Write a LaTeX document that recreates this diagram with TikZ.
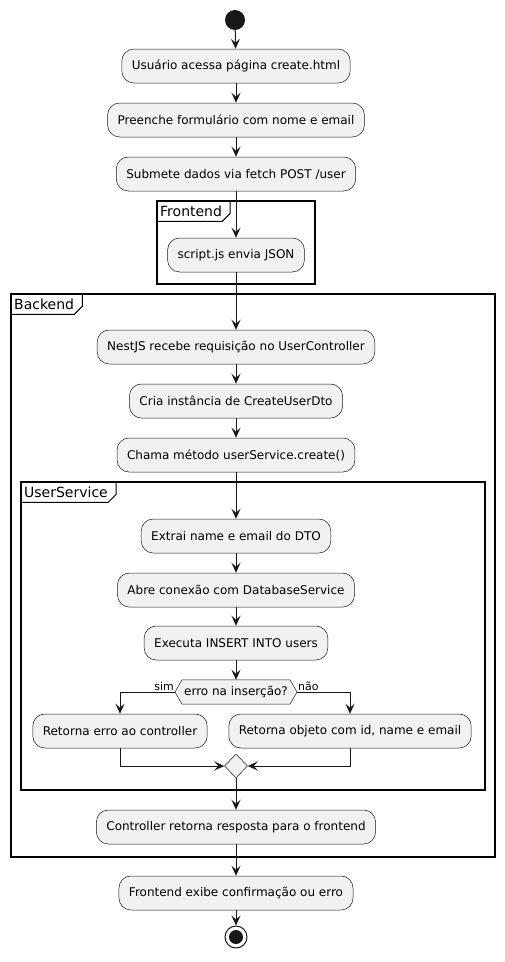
\documentclass[tikz,border=0pt]{standalone}
\usepackage{fontspec}
\setmainfont{DejaVu Sans}
\usetikzlibrary{arrows.meta,shapes.geometric,backgrounds}
\definecolor{boxfill}{HTML}{F1F1F1}
\definecolor{ink}{HTML}{181818}

\begin{document}
\begin{tikzpicture}[x=1pt, y=-1pt,
    act/.style={draw=ink, line width=0.5pt, fill=boxfill, rounded corners=12pt,
        minimum height=34pt, inner xsep=10pt, font=\fontsize{12}{14}\selectfont},
    flow/.style={draw=ink, line width=1pt, -{Stealth[length=10pt,width=9pt,inset=4pt]}},
    frame/.style={draw=black, line width=1.5pt},
    tab/.style={anchor=north west, inner xsep=3pt, inner ysep=0pt, minimum height=20pt,
        font=\fontsize{14}{16}\selectfont},
    tabline/.style={draw=black, line width=1pt},
    guard/.style={inner sep=1pt, font=\fontsize{11}{13}\selectfont}]

\useasboundingbox (0,0) rectangle (504,962);

% start and the first steps
\node[circle, fill=ink, inner sep=0pt, minimum size=20pt] (start) at (235,20) {};
\node[act] (visit) at (236,66) {Usuário acessa página create.html};
\node[act] (form) at (236,120) {Preenche formulário com nome e email};
\node[act] (submit) at (236,174) {Submete dados via fetch POST /user};

% Frontend partition
\draw[frame] (157,201) rectangle (315,284);
\node[tab] (fronttab) at (157,201) {Frontend};
\draw[tabline] (fronttab.south west) -- ([xshift=-3pt]fronttab.south east)
    -- ([xshift=5pt,yshift=8pt]fronttab.south east) -- ([xshift=5pt]fronttab.north east);
\node[act] (script) at (236,255) {script.js envia JSON};

% Backend partition
\draw[frame] (11,294) rectangle (495,857);
\node[tab] (backtab) at (11,294) {Backend};
\draw[tabline] (backtab.south west) -- ([xshift=-3pt]backtab.south east)
    -- ([xshift=5pt,yshift=8pt]backtab.south east) -- ([xshift=5pt]backtab.north east);
\node[act] (nest) at (236,347) {NestJS recebe requisição no UserController};
\node[act] (dto) at (236,401) {Cria instância de CreateUserDto};
\node[act] (call) at (236,455) {Chama método userService.create()};

% UserService partition
\draw[frame] (21,482) rectangle (485,790);
\node[tab] (servtab) at (21,482) {UserService};
\draw[tabline] (servtab.south west) -- ([xshift=-3pt]servtab.south east)
    -- ([xshift=5pt,yshift=8pt]servtab.south east) -- ([xshift=5pt]servtab.north east);
\node[act] (extract) at (236,536) {Extrai name e email do DTO};
\node[act] (conn) at (236,590) {Abre conexão com DatabaseService};
\node[act] (insert) at (236,643) {Executa INSERT INTO users};
\node[inner xsep=2pt, inner ysep=0pt, minimum height=24pt,
    font=\fontsize{12}{14}\selectfont] (dec) at (236,692) {erro na inserção?};
\begin{scope}[on background layer]
\filldraw[draw=ink, fill=boxfill, line width=0.5pt] ([xshift=-7pt]dec.west) -- (dec.north west)
    -- (dec.north east) -- ([xshift=7pt]dec.east) -- (dec.south east) -- (dec.south west) -- cycle;
\end{scope}
\node[guard, anchor=south east] (yes) at ([xshift=-7pt]dec.west) {sim};
\node[guard, anchor=south west] (no) at ([xshift=7pt]dec.east) {não};
\node[act] (fail) at (120,731) {Retorna erro ao controller};
\node[act] (ok) at (350,731) {Retorna objeto com id, name e email};
\node[diamond, draw=ink, fill=boxfill, line width=0.5pt, inner sep=0pt,
    minimum width=23pt, minimum height=24pt] (merge) at (236,766) {};

% back out to the frontend
\node[act] (reply) at (236,827) {Controller retorna resposta para o frontend};
\node[act] (show) at (236,893) {Frontend exibe confirmação ou erro};
\node[circle, draw=ink, line width=1pt, fill=white, inner sep=0pt, minimum size=22pt] (stop) at (236,937) {};
\node[circle, fill=ink, inner sep=0pt, minimum size=14pt] (stopdot) at (stop) {};

% connectors
\draw[flow] (start) -- (visit);
\draw[flow] (visit) -- (form);
\draw[flow] (form) -- (submit);
\draw[flow] (submit) -- (script);
\draw[flow] (script) -- (nest);
\draw[flow] (nest) -- (dto);
\draw[flow] (dto) -- (call);
\draw[flow] (call) -- (extract);
\draw[flow] (extract) -- (conn);
\draw[flow] (conn) -- (insert);
\draw[flow] (insert) -- (dec);
\draw[flow] ([xshift=-7pt]dec.west) -| (fail);
\draw[flow] ([xshift=7pt]dec.east) -| (ok);
\draw[flow] (fail) |- (merge);
\draw[flow] (ok) |- (merge);
\draw[flow] (merge) -- (reply);
\draw[flow] (reply) -- (show);
\draw[flow] (show) -- (stop);

\end{tikzpicture}
\end{document}
